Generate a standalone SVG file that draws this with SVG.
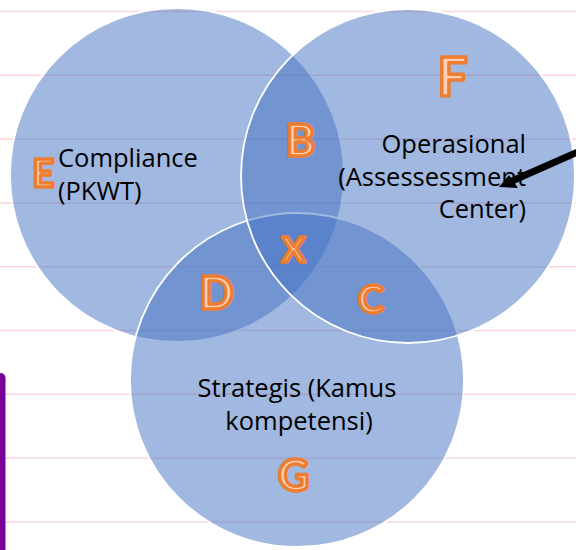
<svg xmlns="http://www.w3.org/2000/svg" width="576" height="550" viewBox="0 0 576 550">
  <style>
    .rule { stroke: #FBD6DB; stroke-width: 1.5; }
    .set { fill: #4472C4; fill-opacity: 0.5; stroke: #FFFFFF; stroke-width: 1.8; }
    .label { font-family: "Open Sans", "Liberation Sans", sans-serif; font-size: 25.5px; fill: #000000; }
    .tag { font-family: Lato, "Open Sans", "Liberation Sans", sans-serif; font-weight: 700; fill: #F9CFB2; stroke: #ED7D31; stroke-width: 3.4; stroke-linejoin: round; text-anchor: middle; }
  </style>

  <rect width="576" height="550" fill="#FFFFFF"/>

  <!-- ruled paper lines -->
  <g id="rules">
    <line class="rule" x1="0" y1="11.5" x2="576" y2="11.5"/>
    <line class="rule" x1="0" y1="75.3" x2="576" y2="75.3"/>
    <line class="rule" x1="0" y1="139.1" x2="576" y2="139.1"/>
    <line class="rule" x1="0" y1="202.9" x2="576" y2="202.9"/>
    <line class="rule" x1="0" y1="266.7" x2="576" y2="266.7"/>
    <line class="rule" x1="0" y1="330.5" x2="576" y2="330.5"/>
    <line class="rule" x1="0" y1="394.3" x2="576" y2="394.3"/>
    <line class="rule" x1="0" y1="458.1" x2="576" y2="458.1"/>
    <line class="rule" x1="0" y1="521.9" x2="576" y2="521.9"/>
  </g>

  <!-- purple margin bar -->
  <path d="M0 373 H0.5 A5 5 0 0 1 5.5 378 V550 H0 Z" fill="#780096"/>

  <!-- Compliance set -->
  <g id="compliance">
    <circle class="set" cx="177" cy="175" r="167"/>
    <text class="label" x="58" y="167">Compliance</text>
    <text class="label" x="58" y="200">(PKWT)</text>
  </g>

  <!-- Strategis set -->
  <g id="strategis">
    <circle class="set" cx="297" cy="380" r="167"/>
    <text class="label" x="297" y="397" text-anchor="middle">Strategis (Kamus</text>
    <text class="label" x="299" y="430" text-anchor="middle">kompetensi)</text>
  </g>

  <!-- Operasional set -->
  <g id="operasional">
    <circle class="set" cx="408" cy="176" r="167"/>
    <text class="label" x="526" y="153" text-anchor="end">Operasional</text>
    <text class="label" x="526" y="186" text-anchor="end">(Assessessment</text>
    <text class="label" x="526" y="218" text-anchor="end">Center)</text>
  </g>

  <!-- region letters -->
  <g id="regions">
    <text class="tag" x="43.5" y="186.5" font-size="38">E</text>
    <text class="tag" x="452.5" y="95.5" font-size="53">F</text>
    <text class="tag" x="300.5" y="156" font-size="44">B</text>
    <text class="tag" x="293.5" y="261.5" font-size="35">X</text>
    <text class="tag" x="216.5" y="308.5" font-size="45">D</text>
    <text class="tag" x="371" y="313" font-size="39">C</text>
    <text class="tag" x="293.5" y="490.5" font-size="43">G</text>
  </g>

  <!-- pointer -->
  <g id="connectors">
    <line x1="580" y1="151" x2="512" y2="181" stroke="#000000" stroke-width="7"/>
    <path d="M499 187 L509 175 L518 188 Z" fill="#000000"/>
  </g>
</svg>
